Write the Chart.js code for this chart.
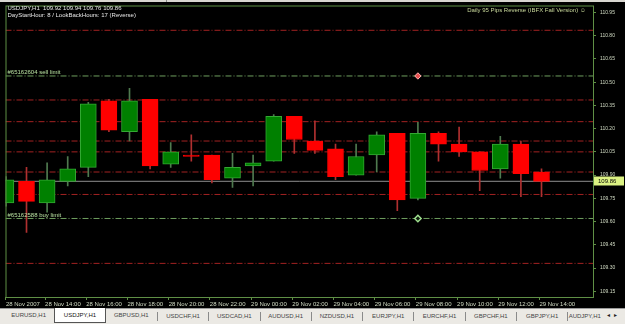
<!DOCTYPE html>
<html lang="en">
<head>
<meta charset="UTF-8">
<title>USDJPY,H1</title>
<script src="https://cdn.jsdelivr.net/npm/chart.js"></script>
<style>
  html, body { margin: 0; padding: 0; background: #000; }
  body { width: 625px; height: 324px; overflow: hidden; position: relative; font-family: "Liberation Sans", Arial, sans-serif; }
  #chartBox { position: absolute; left: 0; top: 0; width: 625px; height: 308px; }
  #topStrip { position: absolute; left: 0; top: 0; width: 625px; height: 2px; background: #d8d6d0; }
  #topStrip i { position: absolute; left: 166px; top: 0; width: 1px; height: 2px; background: #888; }
  #tabs { position: absolute; left: 0; top: 308px; width: 625px; height: 16px; background: #ebe9e4; border-top: 1px solid #9a9a9a; box-sizing: border-box; }
  .tab { position: absolute; top: 0; height: 14px; line-height: 13px; font-size: 6px; color: #444; text-align: center; box-sizing: border-box; }
  .tab.sep { border-left: 1px solid #8a8a8a; height: 9px; top: 3px; line-height: 8px; }
  .tab.active { background: #fff; border: 1px solid #555; border-top: none; color: #111; top: -1px; height: 15px; line-height: 14px; }
  #arrows { position: absolute; right: 4px; top: 2px; font-size: 6px; color: #222; letter-spacing: 4px; }
</style>
</head>
<body>
<div id="chartBox"><canvas id="chart" width="625" height="308"></canvas></div>
<div id="topStrip"><i></i></div>
<div id="tabs"><span id="arrows">◂▸</span></div>
<script>
// hourly USDJPY bars, 28 Nov 12:00 .. 29 Nov 14:00
const opens  = [109.72, 109.86, 109.72, 109.86, 109.95, 110.38, 110.18, 110.39, 109.97, 110.03,
                110.03, 109.88, 109.96, 109.99, 110.28, 110.12, 110.07, 109.90, 110.03, 110.17,
                109.75, 110.17, 110.10, 110.05, 109.94, 110.10, 109.92];
const highs  = [109.89, 109.95, 109.98, 110.02, 110.37, 110.39, 110.46, 110.39, 110.11, 110.16,
                110.03, 110.04, 110.03, 110.29, 110.28, 110.25, 110.10, 110.10, 110.18, 110.17,
                110.24, 110.18, 110.21, 110.05, 110.15, 110.12, 109.94];
const lows   = [109.70, 109.53, 109.66, 109.83, 109.89, 110.18, 110.12, 109.94, 109.95, 109.99,
                109.85, 109.82, 109.83, 109.99, 110.04, 110.04, 109.87, 109.90, 109.92, 109.67,
                109.74, 109.99, 110.02, 109.80, 109.88, 109.76, 109.76];
const closes = [109.87, 109.73, 109.87, 109.94, 110.36, 110.19, 110.38, 109.96, 110.05, 110.02,
                109.87, 109.95, 109.98, 110.28, 110.13, 110.06, 109.89, 110.02, 110.16, 109.74,
                110.17, 110.10, 110.05, 109.93, 110.10, 109.91, 109.86];

const timeLabels = ['28 Nov 2007', '28 Nov 14:00', '28 Nov 16:00', '28 Nov 18:00', '28 Nov 20:00',
                    '28 Nov 22:00', '29 Nov 00:00', '29 Nov 02:00', '29 Nov 04:00', '29 Nov 06:00',
                    '29 Nov 08:00', '29 Nov 10:00', '29 Nov 12:00', '29 Nov 14:00'];
const priceTicks = [109.15, 109.30, 109.45, 109.60, 109.75, 109.90, 110.05, 110.20, 110.35,
                    110.50, 110.65, 110.80, 110.95];

const redLevels   = [110.835, 110.385, 110.245, 110.12, 110.05, 109.92, 109.775, 109.33];
const greenLevels = [110.54, 109.62];
const orderLabels = ['#65162604 sell limit', '#65162588 buy limit'];
const orderBar = 20;
const lastPrice = 109.86;

const symbolLine = 'USDJPY,H1  109.92 109.94 109.76 109.86';
const infoLine = 'DayStartHour: 8 / LookBackHours: 17 (Reverse)';
const eaName = 'Daily 95 Pips Reverse (IBFX Fall Version) \u263A';
const tabNames = ['EURUSD,H1', 'USDJPY,H1', 'GBPUSD,H1', 'USDCHF,H1', 'USDCAD,H1', 'AUDUSD,H1',
                  'NZDUSD,H1', 'EURJPY,H1', 'EURCHF,H1', 'GBPCHF,H1', 'GBPJPY,H1', 'AUDJPY,H1'];

const X_MIN = -0.02, X_MAX = 28.5;
const FRAME = '#5f8f45';
const FONT = 'Liberation Sans, Arial, sans-serif';

// tab bar
const tabsEl = document.getElementById('tabs');
tabNames.forEach((name, i) => {
  const d = document.createElement('div');
  d.className = 'tab' + (i === 1 ? ' active' : (i > 2 ? ' sep' : ''));
  d.style.left = (3 + i * 51.3) + 'px';
  d.style.width = (i === 11 ? 34 : 51.3) + 'px';
  d.style.overflow = 'hidden';
  d.style.whiteSpace = 'nowrap';
  d.textContent = name;
  tabsEl.appendChild(d);
});

const up = opens.map((o, i) => closes[i] >= o);
const bodyData = opens.map((o, i) => ({ x: i, y: [o, closes[i]] }));
const wickData = lows.map((l, i) => ({ x: i, y: [l, highs[i]] }));

function level(y) { return [{ x: X_MIN, y: y }, { x: X_MAX, y: y }]; }

const datasets = [
  {
    type: 'bar', data: bodyData, order: 1, clip: 0,
    backgroundColor: up.map(u => u ? '#008000' : '#ff0000'),
    borderColor: up.map(u => u ? '#33a833' : '#ff0000'),
    borderWidth: 1, borderSkipped: false, barThickness: 16, grouped: false, minBarLength: 1
  },
  {
    type: 'bar', data: wickData, order: 2, clip: 0,
    backgroundColor: up.map(u => u ? '#4f7a4f' : '#b03030'),
    borderWidth: 0, barThickness: 1, grouped: false
  }
];
redLevels.forEach(v => datasets.push({
  type: 'line', data: level(v), order: 5, borderColor: '#a32222', borderWidth: 1,
  borderDash: [6, 2, 1, 2], pointRadius: 0
}));
greenLevels.forEach(v => datasets.push({
  type: 'line', data: level(v), order: 5, borderColor: '#6f9f5f', borderWidth: 1,
  borderDash: [6, 2, 1, 2], pointRadius: 0
}));
datasets.push({
  type: 'line', data: level(lastPrice), order: 4, borderColor: '#8f8f8f', borderWidth: 1, pointRadius: 0
});
datasets.push({
  type: 'line', showLine: false, order: 0, data: [{ x: orderBar, y: greenLevels[0] }],
  pointStyle: 'rectRot', pointRadius: 3.2, backgroundColor: '#e85050', borderColor: '#ffb0b0', borderWidth: 1
});
datasets.push({
  type: 'line', showLine: false, order: 0, data: [{ x: orderBar, y: greenLevels[1] }],
  pointStyle: 'rectRot', pointRadius: 3.2, backgroundColor: '#102010', borderColor: '#9fdf8f', borderWidth: 1.5
});

const overlay = {
  id: 'overlay',
  afterDraw(chart) {
    const { ctx, chartArea: a, scales } = chart;
    const y = scales.y;
    ctx.save();
    ctx.strokeStyle = FRAME;
    ctx.lineWidth = 1;
    ctx.strokeRect(a.left + 0.5, a.top + 0.5, a.right - a.left, a.bottom - a.top);

    ctx.font = '6px ' + FONT;
    ctx.textBaseline = 'middle';
    ctx.textAlign = 'left';
    ctx.fillStyle = '#e6e6e6';
    ctx.fillText(symbolLine, a.left + 2, 8.5);
    ctx.fillText(infoLine, a.left + 2, 15);

    ctx.textAlign = 'right';
    ctx.fillStyle = '#c8d89a';
    ctx.fillText(eaName, a.right - 7, 10);

    ctx.textAlign = 'left';
    ctx.textBaseline = 'bottom';
    ctx.fillStyle = '#b8e0a0';
    orderLabels.forEach((t, i) => ctx.fillText(t, a.left + 2, y.getPixelForValue(greenLevels[i]) - 0.5));

    const py = Math.round(y.getPixelForValue(lastPrice));
    ctx.fillStyle = '#dcf283';
    ctx.fillRect(a.right + 1, py - 4.5, 30, 9);
    ctx.fillStyle = '#000';
    ctx.textBaseline = 'middle';
    ctx.fillText(lastPrice.toFixed(2), a.right + 5, py + 0.5);
    ctx.restore();
  }
};

// no automatic padding for labels hanging past the plot edges
function noPad(s) { s.paddingTop = 0; s.paddingBottom = 0; s.paddingLeft = 0; s.paddingRight = 0; }

new Chart(document.getElementById('chart'), {
  type: 'bar',
  data: { datasets },
  plugins: [overlay],
  options: {
    responsive: false,
    animation: false,
    layout: { padding: { left: 5, top: 3, right: 0, bottom: 0 } },
    plugins: { legend: { display: false }, tooltip: { enabled: false } },
    scales: {
      x: {
        type: 'linear', min: X_MIN, max: X_MAX, offset: false,
        border: { display: false },
        grid: { offset: false, drawOnChartArea: false, drawTicks: true, tickLength: 3, color: FRAME },
        ticks: {
          autoSkip: false, maxRotation: 0, align: 'start', padding: 1,
          color: '#d2dcc4', font: { family: FONT, size: 6 },
          callback: (v, i) => timeLabels[i]
        },
        afterBuildTicks: s => { s.ticks = timeLabels.map((t, i) => ({ value: i === 0 ? 0 : i * 2 - 0.1 })); },
        afterFit: s => { s.height = 11; noPad(s); }
      },
      y: {
        position: 'right', min: 109.113, max: 110.995,
        border: { display: false },
        grid: { drawOnChartArea: false, drawTicks: true, tickLength: 3, color: FRAME },
        ticks: {
          padding: 4, color: '#d2dcc4', font: { family: FONT, size: 5 },
          callback: v => v.toFixed(2)
        },
        afterBuildTicks: s => { s.ticks = priceTicks.map(v => ({ value: v })); },
        afterFit: s => { s.width = 32; noPad(s); }
      }
    }
  }
});
</script>
</body>
</html>
